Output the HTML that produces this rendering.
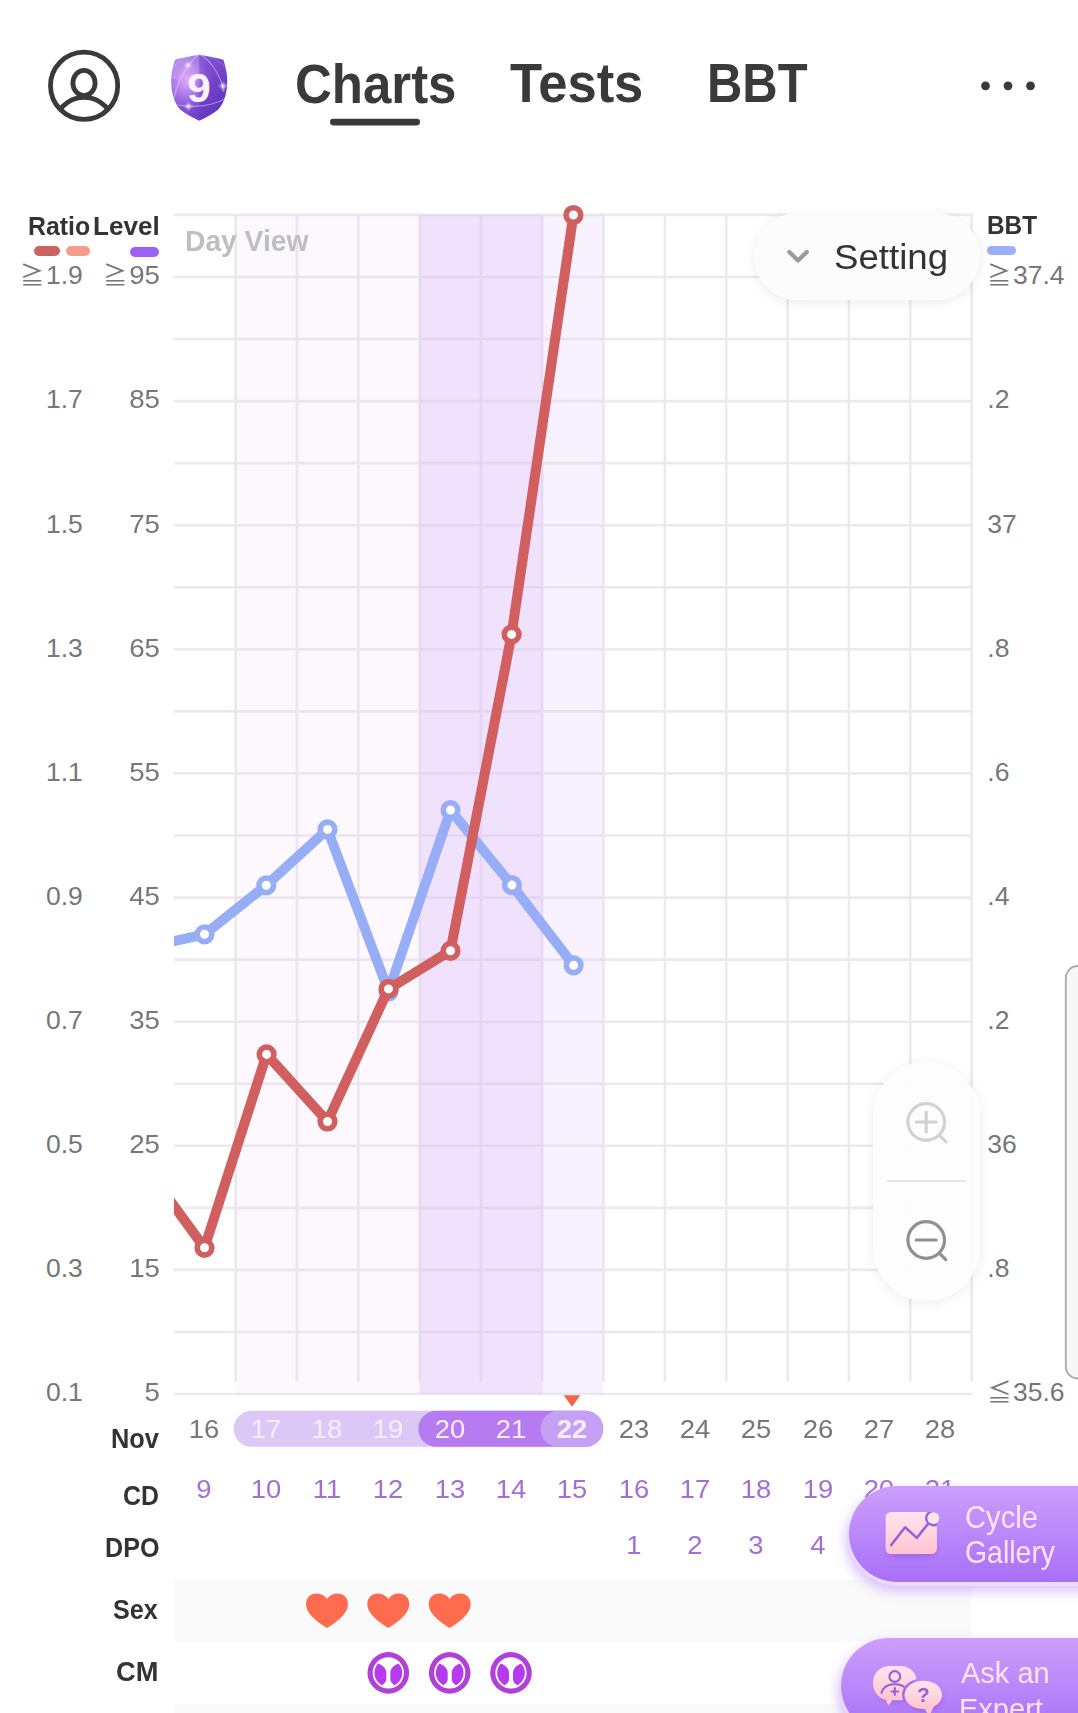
<!DOCTYPE html>
<html lang="en"><head><meta charset="utf-8"><title>Charts</title>
<style>
html,body{margin:0;padding:0;background:#fff;}
body{width:1078px;height:1713px;overflow:hidden;position:relative;font-family:"Liberation Sans","DejaVu Sans",sans-serif;color:#3a3a3a;}
.abs{position:absolute;white-space:nowrap;line-height:1;}
svg{position:absolute;left:0;top:0;overflow:visible;}
.tab{font-weight:700;font-size:55.6px;color:#3a3a3a;transform-origin:0 0;}
.lg{font-weight:700;font-size:26.6px;color:#333;transform-origin:0 0;}
.ax{font-size:26.5px;color:#777;}
.axr{text-align:right;}
.ge{font-family:"Noto Sans CJK JP","DejaVu Sans",sans-serif;font-size:24.3px;color:#777;}
.rowl{font-weight:700;font-size:27.5px;color:#333;transform-origin:0 0;}
.cell{width:62px;text-align:center;font-size:26.6px;transform:scaleX(1.03);}
.dt{color:#777;}
.dtw{color:#f6eeff;}
.cd{color:#a36fd6;}
.bt{font-size:31.2px;color:#ffe2f4;z-index:7;transform-origin:0 0;}
</style></head><body>

<svg width="1078" height="1713" viewBox="0 0 1078 1713" style="z-index:1">
<defs><clipPath id="cp"><rect x="174" y="150" width="810" height="1260"/></clipPath></defs>
<g stroke="#ebeaee" stroke-width="2.6" fill="none">
<path d="M174.0 214.9H972.9"/>
<path d="M174.0 277.0H972.9"/>
<path d="M174.0 339.0H972.9"/>
<path d="M174.0 401.1H972.9"/>
<path d="M174.0 463.1H972.9"/>
<path d="M174.0 525.2H972.9"/>
<path d="M174.0 587.3H972.9"/>
<path d="M174.0 649.3H972.9"/>
<path d="M174.0 711.4H972.9"/>
<path d="M174.0 773.4H972.9"/>
<path d="M174.0 835.5H972.9"/>
<path d="M174.0 897.6H972.9"/>
<path d="M174.0 959.6H972.9"/>
<path d="M174.0 1021.7H972.9"/>
<path d="M174.0 1083.7H972.9"/>
<path d="M174.0 1145.8H972.9"/>
<path d="M174.0 1207.9H972.9"/>
<path d="M174.0 1269.9H972.9"/>
<path d="M174.0 1332.0H972.9"/>
<path d="M174.0 1394.0H972.9"/>
<path d="M235.6 214.9V1381.5"/>
<path d="M296.9 214.9V1381.5"/>
<path d="M358.3 214.9V1381.5"/>
<path d="M419.6 214.9V1381.5"/>
<path d="M480.9 214.9V1381.5"/>
<path d="M542.2 214.9V1381.5"/>
<path d="M603.6 214.9V1381.5"/>
<path d="M664.9 214.9V1381.5"/>
<path d="M726.2 214.9V1381.5"/>
<path d="M787.6 214.9V1381.5"/>
<path d="M848.9 214.9V1381.5"/>
<path d="M910.2 214.9V1381.5"/>
<path d="M971.6 214.9V1381.5"/>
</g>
<rect x="235.6" y="214.9" width="184.0" height="1179.1" fill="rgb(222,188,248)" fill-opacity="0.10"/>
<rect x="419.6" y="214.9" width="122.7" height="1179.1" fill="rgb(222,188,248)" fill-opacity="0.45"/>
<rect x="542.2" y="214.9" width="61.3" height="1179.1" fill="rgb(222,188,248)" fill-opacity="0.20"/>
<g clip-path="url(#cp)" fill="none" stroke-linejoin="round" stroke-linecap="round">
<polyline points="143.3,947.8 204.5,934.3 266.3,885.3 327.5,829.4 388.6,991.5 450.5,810.1 511.9,885.1 573.6,965.3" stroke="#97aef7" stroke-width="10"/>
<circle cx="204.5" cy="934.3" r="7.3" fill="#fff" stroke="#97aef7" stroke-width="5.6"/>
<circle cx="266.3" cy="885.3" r="7.3" fill="#fff" stroke="#97aef7" stroke-width="5.6"/>
<circle cx="327.5" cy="829.4" r="7.3" fill="#fff" stroke="#97aef7" stroke-width="5.6"/>
<circle cx="388.6" cy="991.5" r="7.3" fill="#fff" stroke="#97aef7" stroke-width="5.6"/>
<circle cx="450.5" cy="810.1" r="7.3" fill="#fff" stroke="#97aef7" stroke-width="5.6"/>
<circle cx="511.9" cy="885.1" r="7.3" fill="#fff" stroke="#97aef7" stroke-width="5.6"/>
<circle cx="573.6" cy="965.3" r="7.3" fill="#fff" stroke="#97aef7" stroke-width="5.6"/>
<polyline points="143.3,1163.7 204.5,1247.8 266.6,1054.4 327.5,1121.5 388.5,988.9 450.5,950.8 511.6,634.4 573.4,215.0" stroke="#d15f5f" stroke-width="10"/>
<circle cx="204.5" cy="1247.8" r="7.3" fill="#fff" stroke="#d15f5f" stroke-width="5.6"/>
<circle cx="266.6" cy="1054.4" r="7.3" fill="#fff" stroke="#d15f5f" stroke-width="5.6"/>
<circle cx="327.5" cy="1121.5" r="7.3" fill="#fff" stroke="#d15f5f" stroke-width="5.6"/>
<circle cx="388.5" cy="988.9" r="7.3" fill="#fff" stroke="#d15f5f" stroke-width="5.6"/>
<circle cx="450.5" cy="950.8" r="7.3" fill="#fff" stroke="#d15f5f" stroke-width="5.6"/>
<circle cx="511.6" cy="634.4" r="7.3" fill="#fff" stroke="#d15f5f" stroke-width="5.6"/>
<circle cx="573.4" cy="215.0" r="7.3" fill="#fff" stroke="#d15f5f" stroke-width="5.6"/>
</g>
<path d="M563.6 1395.2H580.4L572 1406.8Z" fill="#f4644a"/>
<rect x="233.6" y="1410.8" width="369.6" height="36" rx="18" fill="#dcc8f7"/>
<rect x="418.3" y="1410.8" width="184.9" height="36" rx="18" fill="#b67bf0"/>
<rect x="540.6" y="1410.8" width="62.6" height="36" rx="18" fill="#c6a0f5"/>
<rect x="174" y="1580" width="797.5" height="61.6" fill="#fafafa"/>
<rect x="174" y="1704" width="797.5" height="20" fill="#fafafa"/>
<path transform="translate(327.0 1610.8)" d="M0 17.2C-2.5 15.6 -10.5 10.8 -15.5 5.2C-19 1.3 -21 -2.5 -21 -6.5C-21 -12.8 -16.500 -17.2 -10.600 -17.200C-5.500 -17.200 -1.600 -14.600 0 -11.600C1.600 -14.600 5.500 -17.200 10.600 -17.200C16.500 -17.200 21 -12.800 21 -6.500C21 -2.500 19 1.300 15.500 5.200C10.500 10.800 2.500 15.600 0 17.200Z" fill="#ff6b4e"/>
<path transform="translate(388.3 1610.8)" d="M0 17.2C-2.5 15.6 -10.5 10.8 -15.5 5.2C-19 1.3 -21 -2.5 -21 -6.5C-21 -12.8 -16.500 -17.2 -10.600 -17.200C-5.500 -17.200 -1.600 -14.600 0 -11.600C1.600 -14.600 5.500 -17.200 10.600 -17.200C16.500 -17.200 21 -12.800 21 -6.500C21 -2.500 19 1.300 15.500 5.200C10.500 10.800 2.500 15.600 0 17.200Z" fill="#ff6b4e"/>
<path transform="translate(449.7 1610.8)" d="M0 17.2C-2.5 15.6 -10.5 10.8 -15.5 5.2C-19 1.3 -21 -2.5 -21 -6.5C-21 -12.8 -16.500 -17.2 -10.600 -17.200C-5.500 -17.200 -1.600 -14.600 0 -11.600C1.600 -14.600 5.500 -17.200 10.600 -17.200C16.500 -17.200 21 -12.800 21 -6.500C21 -2.500 19 1.300 15.500 5.200C10.500 10.800 2.500 15.600 0 17.200Z" fill="#ff6b4e"/>
<defs><clipPath id="cmc"><circle r="13.7"/></clipPath></defs>
<g transform="translate(388.3 1672.9)"><circle r="20.8" fill="#b140d8"/><circle r="15.6" fill="#fff"/><path d="M-10.24 -9.4C-5 -7.3 -2 -4 -2 0V6C-2 8.500 -3.500 10.800 -6.470 12.300A13.900 13.900 0 0 1 -10.240 -9.400Z" fill="#b83af0"/><path d="M10.24 -9.4C5 -7.3 2 -4 2 0V6C2 8.500 3.500 10.800 6.470 12.300A13.900 13.900 0 0 0 10.240 -9.400Z" fill="#b83af0"/></g>
<g transform="translate(449.7 1672.9)"><circle r="20.8" fill="#b140d8"/><circle r="15.6" fill="#fff"/><path d="M-10.24 -9.4C-5 -7.3 -2 -4 -2 0V6C-2 8.500 -3.500 10.800 -6.470 12.300A13.900 13.900 0 0 1 -10.240 -9.400Z" fill="#b83af0"/><path d="M10.24 -9.4C5 -7.3 2 -4 2 0V6C2 8.500 3.500 10.800 6.470 12.300A13.900 13.900 0 0 0 10.240 -9.400Z" fill="#b83af0"/></g>
<g transform="translate(511.0 1672.9)"><circle r="20.8" fill="#b140d8"/><circle r="15.6" fill="#fff"/><path d="M-10.24 -9.4C-5 -7.3 -2 -4 -2 0V6C-2 8.500 -3.500 10.800 -6.470 12.300A13.900 13.900 0 0 1 -10.240 -9.400Z" fill="#b83af0"/><path d="M10.24 -9.4C5 -7.3 2 -4 2 0V6C2 8.500 3.500 10.800 6.470 12.300A13.900 13.900 0 0 0 10.240 -9.400Z" fill="#b83af0"/></g>
</svg>
<svg width="1078" height="200" viewBox="0 0 1078 200" style="z-index:2">
<defs>
<clipPath id="uc"><circle cx="84.1" cy="85.8" r="33.6"/></clipPath>
<linearGradient id="sh1" x1="0" y1="0" x2="1" y2="1"><stop offset="0" stop-color="#a981e6"/><stop offset="0.42" stop-color="#8655da"/><stop offset="1" stop-color="#5a2eb6"/></linearGradient>
<filter id="bl" x="-50%" y="-50%" width="200%" height="200%"><feGaussianBlur stdDeviation="0.9"/></filter>
<radialGradient id="sh2" cx="0.30" cy="0.40" r="0.42"><stop offset="0" stop-color="#efb2ff" stop-opacity="0.9"/><stop offset="1" stop-color="#d9a0ff" stop-opacity="0"/></radialGradient>
</defs>
<g fill="none" stroke="#3a3a3a" stroke-width="4.8">
<circle cx="84.1" cy="85.8" r="33.6"/>
<ellipse cx="84.0" cy="83.0" rx="11.1" ry="12.6"/>
<circle cx="84.1" cy="127" r="29.6" clip-path="url(#uc)"/>
</g>
<g>
<path id="shp" d="M199.2 54.8C191 56.2 183 57.6 175 59.8C172.4 68 171 75 171.2 82C171.6 95 175 104 180.5 109.8C185 113.6 191.500 117.2 199.2 120.8C206.9 117.2 213.4 113.6 217.9 109.8C223.4 104 226.8 95 227.2 82C227.4 75 226 68 223.4 59.8C215.4 57.6 207.4 56.2 199.2 54.8Z" fill="url(#sh1)"/>
<path d="M199.2 54.8C191 56.2 183 57.6 175 59.8C172.4 68 171 75 171.2 82C171.6 95 175 104 180.5 109.8C185 113.6 191.500 117.2 199.2 120.8C206.9 117.2 213.4 113.6 217.9 109.8C223.4 104 226.8 95 227.2 82C227.4 75 226 68 223.4 59.8C215.4 57.6 207.4 56.2 199.2 54.8Z" fill="url(#sh2)"/>
<path d="M199.2 54.8V120.8C206.9 117.2 213.4 113.6 217.9 109.8C223.4 104 226.8 95 227.2 82C227.4 75 226 68 223.4 59.8C215.4 57.6 207.4 56.2 199.2 54.8Z" fill="#5a2db5" fill-opacity="0.22"/>
<path d="M171.3 79H199.2V54.8C191 56.2 183 57.6 175 59.8C172.800 67 171.3 73 171.3 79Z" fill="#fff" fill-opacity="0.12"/>
<g fill="none" stroke="#f3dcff" stroke-opacity="0.45" stroke-width="1.2">
<path d="M174 98C178 80 187 65 199 54"/><path d="M200 54C212 62 221 76 224 92"/><path d="M178 105C194 108 212 106 227 98"/>
<ellipse cx="199" cy="88" rx="33" ry="33" stroke-opacity="0.18"/>
</g>
<g fill="#fff" filter="url(#bl)">
<circle cx="188" cy="65.200" r="1.7"/><circle cx="223" cy="86" r="2"/><circle cx="188.4" cy="106.4" r="1.9"/>
<path d="M188 60.500L188.700 64.500L192.700 65.200L188.700 65.900L188 69.900L187.300 65.900L183.300 65.200L187.300 64.500Z" fill-opacity="0.9"/>
<path d="M223 80.500L223.800 85.200L228.500 86L223.800 86.800L223 91.500L222.200 86.800L217.500 86L222.200 85.200Z" fill-opacity="0.9"/>
<path d="M188.4 101.200L189.200 105.600L193.600 106.400L189.200 107.200L188.400 111.600L187.600 107.200L183.200 106.400L187.600 105.600Z" fill-opacity="0.9"/>
</g>
<text x="199.100" y="102" text-anchor="middle" font-family="Liberation Sans, sans-serif" font-weight="700" font-size="40.200" fill="#fbf4ff" transform="translate(199.100 0) scale(1.05 1) translate(-199.100 0)">9</text>
</g>
<rect x="330" y="118.800" width="90" height="6.600" rx="3.300" fill="#3a3a3a"/>
<g fill="#3a3a3a"><circle cx="985.500" cy="85.800" r="4.400"/><circle cx="1008" cy="85.800" r="4.400"/><circle cx="1030.500" cy="85.800" r="4.400"/></g>
</svg>

<div class="abs tab" id="t1" style="left:294.6px;top:57.0px;transform:scaleX(0.917)">Charts</div>
<div class="abs tab" id="t2" style="left:510.4px;top:56.2px;transform:scaleX(0.945)">Tests</div>
<div class="abs tab" id="t3" style="left:706.7px;top:56.2px;transform:scaleX(0.880)">BBT</div>
<div class="abs lg" id="lg1" style="left:27.9px;top:213.4px;z-index:2;transform:scaleX(0.935)">Ratio</div>
<div class="abs lg" id="lg2" style="left:93.0px;top:213.3px;z-index:2;transform:scaleX(0.98)">Level</div>
<div class="abs lg" id="lg3" style="left:987.3px;top:212.4px;z-index:2;transform:scaleX(0.915)">BBT</div>
<div class="abs" style="left:33.7px;top:246px;width:26.5px;height:9.6px;border-radius:5px;background:#cd6262;z-index:2"></div>
<div class="abs" style="left:65.5px;top:246px;width:24.5px;height:9.6px;border-radius:5px;background:#f69c8b;z-index:2"></div>
<div class="abs" style="left:129.6px;top:247px;width:29px;height:9.6px;border-radius:5px;background:#9c60f5;z-index:2"></div>
<div class="abs" style="left:987px;top:245.6px;width:28.5px;height:9.4px;border-radius:5px;background:#9bb0f8;z-index:2"></div>
<div class="abs" id="dv" style="left:185.4px;top:226.6px;font-weight:700;font-size:28.6px;color:#bfbfc2;z-index:2;transform-origin:0 0;transform:scaleX(0.987)">Day View</div>
<div class="abs ax" style="left:46.0px;top:262.3px;z-index:2">1.9</div>
<div class="abs ax axr" style="left:99.5px;width:60px;top:262.3px;z-index:2;transform-origin:100% 0;transform:scaleX(1.045)">95</div>
<div class="abs ax" style="left:1013.0px;top:262.3px;z-index:2">37.4</div>
<div class="abs ax" style="left:46.0px;top:386.4px;z-index:2">1.7</div>
<div class="abs ax axr" style="left:99.5px;width:60px;top:386.4px;z-index:2;transform-origin:100% 0;transform:scaleX(1.045)">85</div>
<div class="abs ax" style="left:987.3px;top:386.4px;z-index:2">.2</div>
<div class="abs ax" style="left:46.0px;top:510.6px;z-index:2">1.5</div>
<div class="abs ax axr" style="left:99.5px;width:60px;top:510.6px;z-index:2;transform-origin:100% 0;transform:scaleX(1.045)">75</div>
<div class="abs ax" style="left:987.3px;top:510.6px;z-index:2">37</div>
<div class="abs ax" style="left:46.0px;top:634.7px;z-index:2">1.3</div>
<div class="abs ax axr" style="left:99.5px;width:60px;top:634.7px;z-index:2;transform-origin:100% 0;transform:scaleX(1.045)">65</div>
<div class="abs ax" style="left:987.3px;top:634.7px;z-index:2">.8</div>
<div class="abs ax" style="left:46.0px;top:758.8px;z-index:2">1.1</div>
<div class="abs ax axr" style="left:99.5px;width:60px;top:758.8px;z-index:2;transform-origin:100% 0;transform:scaleX(1.045)">55</div>
<div class="abs ax" style="left:987.3px;top:758.8px;z-index:2">.6</div>
<div class="abs ax" style="left:46.0px;top:882.9px;z-index:2">0.9</div>
<div class="abs ax axr" style="left:99.5px;width:60px;top:882.9px;z-index:2;transform-origin:100% 0;transform:scaleX(1.045)">45</div>
<div class="abs ax" style="left:987.3px;top:882.9px;z-index:2">.4</div>
<div class="abs ax" style="left:46.0px;top:1007.0px;z-index:2">0.7</div>
<div class="abs ax axr" style="left:99.5px;width:60px;top:1007.0px;z-index:2;transform-origin:100% 0;transform:scaleX(1.045)">35</div>
<div class="abs ax" style="left:987.3px;top:1007.0px;z-index:2">.2</div>
<div class="abs ax" style="left:46.0px;top:1131.2px;z-index:2">0.5</div>
<div class="abs ax axr" style="left:99.5px;width:60px;top:1131.2px;z-index:2;transform-origin:100% 0;transform:scaleX(1.045)">25</div>
<div class="abs ax" style="left:987.3px;top:1131.2px;z-index:2">36</div>
<div class="abs ax" style="left:46.0px;top:1255.3px;z-index:2">0.3</div>
<div class="abs ax axr" style="left:99.5px;width:60px;top:1255.3px;z-index:2;transform-origin:100% 0;transform:scaleX(1.045)">15</div>
<div class="abs ax" style="left:987.3px;top:1255.3px;z-index:2">.8</div>
<div class="abs ax" style="left:46.0px;top:1379.4px;z-index:2">0.1</div>
<div class="abs ax axr" style="left:99.5px;width:60px;top:1379.4px;z-index:2;transform-origin:100% 0;transform:scaleX(1.045)">5</div>
<div class="abs ax" style="left:1013.0px;top:1379.4px;z-index:2">35.6</div>
<div class="abs ge" style="left:19.9px;top:262.1px;z-index:2">≧</div>
<div class="abs ge" style="left:102.9px;top:262.1px;z-index:2">≧</div>
<div class="abs ge" style="left:987.0px;top:262.2px;z-index:2">≧</div>
<div class="abs ge" style="left:987.3px;top:1379.0px;z-index:2">≦</div>
<div class="abs rowl" style="left:110.7px;top:1425.3px;z-index:2;transform:scaleX(0.9226)">Nov</div>
<div class="abs rowl" style="left:122.9px;top:1482.2px;z-index:2;transform:scaleX(0.904)">CD</div>
<div class="abs rowl" style="left:104.8px;top:1534.3px;z-index:2;transform:scaleX(0.9133)">DPO</div>
<div class="abs rowl" style="left:113.1px;top:1596.0px;z-index:2;transform:scaleX(0.915)">Sex</div>
<div class="abs rowl" style="left:116.45px;top:1658.0px;z-index:2;transform:scaleX(0.99)">CM</div>
<div class="abs cell dt" style="left:173.4px;top:1416.4px;z-index:2">16</div>
<div class="abs cell cd" style="left:173.4px;top:1476.1px;z-index:2">9</div>
<div class="abs cell dtw" style="left:234.8px;top:1416.4px;z-index:2">17</div>
<div class="abs cell cd" style="left:234.8px;top:1476.1px;z-index:2">10</div>
<div class="abs cell dtw" style="left:296.1px;top:1416.4px;z-index:2">18</div>
<div class="abs cell cd" style="left:296.1px;top:1476.1px;z-index:2">11</div>
<div class="abs cell dtw" style="left:357.4px;top:1416.4px;z-index:2">19</div>
<div class="abs cell cd" style="left:357.4px;top:1476.1px;z-index:2">12</div>
<div class="abs cell dtw" style="left:418.8px;top:1416.4px;z-index:2">20</div>
<div class="abs cell cd" style="left:418.8px;top:1476.1px;z-index:2">13</div>
<div class="abs cell dtw" style="left:480.1px;top:1416.4px;z-index:2">21</div>
<div class="abs cell cd" style="left:480.1px;top:1476.1px;z-index:2">14</div>
<div class="abs cell dtw" style="left:541.4px;top:1416.4px;font-weight:700;z-index:2">22</div>
<div class="abs cell cd" style="left:541.4px;top:1476.1px;z-index:2">15</div>
<div class="abs cell dt" style="left:602.7px;top:1416.4px;z-index:2">23</div>
<div class="abs cell cd" style="left:602.7px;top:1476.1px;z-index:2">16</div>
<div class="abs cell cd" style="left:602.7px;top:1532.2px;z-index:2">1</div>
<div class="abs cell dt" style="left:664.1px;top:1416.4px;z-index:2">24</div>
<div class="abs cell cd" style="left:664.1px;top:1476.1px;z-index:2">17</div>
<div class="abs cell cd" style="left:664.1px;top:1532.2px;z-index:2">2</div>
<div class="abs cell dt" style="left:725.4px;top:1416.4px;z-index:2">25</div>
<div class="abs cell cd" style="left:725.4px;top:1476.1px;z-index:2">18</div>
<div class="abs cell cd" style="left:725.4px;top:1532.2px;z-index:2">3</div>
<div class="abs cell dt" style="left:786.7px;top:1416.4px;z-index:2">26</div>
<div class="abs cell cd" style="left:786.7px;top:1476.1px;z-index:2">19</div>
<div class="abs cell cd" style="left:786.7px;top:1532.2px;z-index:2">4</div>
<div class="abs cell dt" style="left:848.1px;top:1416.4px;z-index:2">27</div>
<div class="abs cell cd" style="left:848.1px;top:1476.1px;z-index:2">20</div>
<div class="abs cell cd" style="left:848.1px;top:1532.2px;z-index:2">5</div>
<div class="abs cell dt" style="left:909.4px;top:1416.4px;z-index:2">28</div>
<div class="abs cell cd" style="left:909.4px;top:1476.1px;z-index:2">21</div>
<div class="abs cell cd" style="left:909.4px;top:1532.2px;z-index:2">6</div>
<div class="abs" style="left:754px;top:213px;width:226px;height:87px;border-radius:44px;background:rgba(252,252,252,0.95);box-shadow:0 2px 12px rgba(0,0,0,0.08);z-index:3"></div>
<svg width="1078" height="400" viewBox="0 0 1078 400" style="z-index:4"><path d="M789.3 252L798 260.500L806.800 252" fill="none" stroke="#9a9a9a" stroke-width="4.200" stroke-linecap="round" stroke-linejoin="round"/></svg>
<div class="abs" id="set" style="left:833.7px;top:240.1px;font-size:34.4px;color:#333;z-index:4;transform-origin:0 0;transform:scaleX(1.065)">Setting</div>
<div class="abs" style="left:872.5px;top:1062px;width:107.5px;height:239px;border-radius:54px;background:rgba(253,253,253,0.93);box-shadow:0 2px 14px rgba(0,0,0,0.07);z-index:3"></div>
<svg width="1078" height="1713" viewBox="0 0 1078 1713" style="z-index:4">
<g fill="none" stroke-linecap="round" stroke="#d2d2d2" stroke-width="3.200"><circle cx="926.200" cy="1122" r="18.300"/><path d="M939.500 1135.300L945.800 1141.600M916.200 1122H936.200M926.200 1112V1132"/></g>
<path d="M886.500 1181H966.500" stroke="#e0e0e0" stroke-width="1.600"/>
<g fill="none" stroke-linecap="round" stroke="#909090" stroke-width="3.200"><circle cx="926.200" cy="1240" r="18.300"/><path d="M939.500 1253.300L945.800 1259.600M916.200 1240H936.200"/></g>
<rect x="1065.800" y="966" width="30" height="412.500" rx="12" fill="#f7f7f7" stroke="#a8a8a8" stroke-width="1.800"/>
</svg>
<div class="abs" style="left:847.6px;top:1485.5px;width:400px;height:100.2px;border-radius:50px;background:#eadbff;box-shadow:-2px 5px 12px rgba(176,130,250,0.50);z-index:5"></div>
<div class="abs" style="left:849.1px;top:1486.1px;width:400px;height:95.8px;border-radius:48px;background:linear-gradient(180deg,#cc9efb 0%,#ba88fa 50%,#a86ff7 100%);z-index:5"></div>
<div class="abs" style="left:839.6px;top:1637.7px;width:400px;height:100.2px;border-radius:50px;background:#eadbff;box-shadow:-2px 5px 12px rgba(176,130,250,0.50);z-index:5"></div>
<div class="abs" style="left:841.1px;top:1638.3px;width:400px;height:95.8px;border-radius:48px;background:linear-gradient(180deg,#cc9efb 0%,#ba88fa 50%,#a86ff7 100%);z-index:5"></div>
<svg width="1078" height="1713" viewBox="0 0 1078 1713" style="z-index:6">
<defs><linearGradient id="pk" x1="0" y1="0" x2="0" y2="1"><stop offset="0" stop-color="#ffe5f0"/><stop offset="1" stop-color="#ffc4cf"/></linearGradient>
<clipPath id="irc"><rect x="885.600" y="1512.100" width="51.300" height="41.900" rx="5.500"/></clipPath>
<filter id="isd" x="-30%" y="-30%" width="160%" height="180%"><feGaussianBlur stdDeviation="2.2"/></filter>
<clipPath id="b1c"><path d="M860 1640H960V1720H860Z M923.3 1678.200 A21.300 16.700 0 1 0 923.3 1711.600 A21.300 16.700 0 1 0 923.3 1678.200Z" clip-rule="evenodd"/></clipPath>
</defs>
<rect x="887" y="1516" width="48.500" height="41" rx="6" fill="#8a4fe0" fill-opacity="0.45" filter="url(#isd)"/>
<rect x="885.600" y="1512.100" width="51.300" height="41.900" rx="5.500" fill="url(#pk)"/>
<path d="M891.2 1545.100L905.100 1527.3L916.800 1537.900L927.900 1524" fill="none" stroke="#9561d8" stroke-width="2.500" stroke-linecap="round" stroke-linejoin="round"/>
<circle cx="933.3" cy="1518.200" r="8.300" fill="#9a62de" clip-path="url(#irc)"/>
<circle cx="933.3" cy="1518.200" r="5.900" fill="#ffe3ee"/>
<g filter="url(#isd)" opacity="0.5"><ellipse cx="897" cy="1688" rx="20" ry="15" fill="#8a4fe0"/><ellipse cx="925" cy="1699" rx="17" ry="12" fill="#8a4fe0"/></g>
<g clip-path="url(#b1c)">
<path d="M885 1698L888.300 1705.600L894 1698Z" fill="#ffc9d4"/>
<rect x="873" y="1666" width="44" height="34.300" rx="16.500" fill="url(#pk)"/>
<g fill="none" stroke="#9561d8" stroke-width="2.100" stroke-linecap="round"><circle cx="894.800" cy="1676.500" r="5.400"/><path d="M881.500 1692.900C883 1687.500 888 1684.300 894.800 1684.300C901.600 1684.300 906.600 1687.500 908.100 1692.900"/><path d="M891.500 1691.500H898.100M894.800 1688.200V1694.800" stroke-width="2.200"/></g>
</g>
<path d="M924 1708L929.300 1716L934 1706Z" fill="#ffc6d1"/>
<ellipse cx="923.3" cy="1694.900" rx="18.800" ry="14.200" fill="url(#pk)"/>
</svg>
<div class="abs" style="left:912.3px;top:1685.4px;width:22px;text-align:center;font-weight:700;font-size:20.500px;color:#9561d8;z-index:7">?</div>
<div class="abs bt" id="cg1" style="left:964.6px;top:1501.7px;transform:scaleX(0.935)">Cycle</div>
<div class="abs bt" id="cg2" style="left:965.2px;top:1537.0px;transform:scaleX(0.912)">Gallery</div>
<div class="abs bt" id="ae1" style="left:960.6px;top:1657.3px;font-size:30.4px;transform:scaleX(0.955)">Ask an</div>
<div class="abs bt" id="ae2" style="left:959.2px;top:1692.5px;font-size:30.4px;transform:scaleX(0.955)">Expert</div>

</body></html>
